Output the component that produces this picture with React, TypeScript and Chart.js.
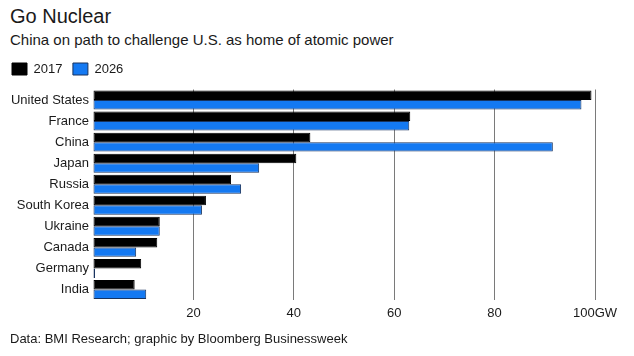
import React, { useEffect, useRef } from "react";
import { Chart, registerables } from "chart.js";

Chart.register(...registerables);

const categories = [
  "United States",
  "France",
  "China",
  "Japan",
  "Russia",
  "South Korea",
  "Ukraine",
  "Canada",
  "Germany",
  "India",
];
const values2017 = [99.3, 63.2, 43.3, 40.5, 27.5, 22.5, 13.3, 12.8, 9.6, 8.3];
const values2026 = [97.3, 63.0, 91.6, 33.1, 29.5, 21.7, 13.3, 8.6, 0.4, 10.6];
const seriesNames = ["2017", "2026"];
const tickValues = [0, 20, 40, 60, 80, 100];
const tickLabels = ["", "20", "40", "60", "80", "100GW"];

const titleText = "Go Nuclear";
const subtitleText = "China on path to challenge U.S. as home of atomic power";
const sourceText = "Data: BMI Research; graphic by Bloomberg Businessweek";

const FONT = "'Liberation Sans', Arial, Helvetica, sans-serif";

export default function App() {
  const canvasRef = useRef<HTMLCanvasElement | null>(null);

  useEffect(() => {
    if (!canvasRef.current) return;
    const chart = new Chart(canvasRef.current, {
      type: "bar",
      data: {
        labels: categories,
        datasets: [
          {
            label: seriesNames[0],
            data: values2017,
            backgroundColor: "#000000",
            borderColor: "#000000",
            borderWidth: 1,
            borderSkipped: false,
            categoryPercentage: 0.9,
            barPercentage: 1.0,
          },
          {
            label: seriesNames[1],
            data: values2026,
            backgroundColor: "#1479f2",
            borderColor: "#18335e",
            borderWidth: 1,
            borderSkipped: false,
            categoryPercentage: 0.9,
            barPercentage: 1.0,
          },
        ],
      },
      options: {
        indexAxis: "y",
        responsive: false,
        animation: false,
        devicePixelRatio: 1,
        layout: { padding: { top: 52, left: 1.5, right: 39, bottom: 36 } },
        plugins: {
          tooltip: { enabled: false },
          title: { display: false },
          legend: {
            display: true,
            position: "top",
            align: "start",
            labels: {
              boxWidth: 15,
              boxHeight: 12,
              padding: 10.5,
              color: "#1a1a1a",
              font: { family: FONT, size: 13 },
            },
          },
        },
        scales: {
          x: {
            type: "linear",
            position: "bottom",
            min: 0,
            max: 100,
            afterBuildTicks: (scale: any) => {
              scale.ticks = tickValues.map((v) => ({ value: v }));
            },
            afterFit: (scale: any) => {
              scale.height = 20;
            },
            ticks: {
              padding: 6,
              color: "#1a1a1a",
              font: { family: FONT, size: 13 },
              maxRotation: 0,
              callback: (value: any) => {
                const i = tickValues.indexOf(Number(value));
                return i >= 0 ? tickLabels[i] : "";
              },
            },
            grid: {
              drawTicks: false,
              lineWidth: 1,
              color: (ctx: any) =>
                ctx.tick && ctx.tick.value === 0 ? "rgba(0,0,0,0)" : "#7a7a7a",
            },
            border: { display: false },
          },
          xTop: {
            type: "linear",
            position: "top",
            min: 0,
            max: 100,
            display: true,
            afterFit: (scale: any) => {
              scale.height = 4;
            },
            ticks: { display: false },
            grid: { display: false, drawTicks: false },
            border: { display: false },
          },
          y: {
            type: "category",
            afterFit: (scale: any) => {
              scale.width = 91.5;
            },
            ticks: {
              padding: 4,
              color: "#1a1a1a",
              font: { family: FONT, size: 13 },
            },
            grid: { display: false, drawTicks: false },
            border: { display: false },
          },
        },
      },
    });
    return () => chart.destroy();
  }, []);

  const textBase: React.CSSProperties = {
    position: "absolute",
    left: 10,
    margin: 0,
    whiteSpace: "nowrap",
    fontFamily: FONT,
    color: "#1a1a1a",
  };

  return (
    <div
      style={{
        position: "absolute",
        left: 0,
        top: 0,
        width: 634,
        height: 356,
        background: "#ffffff",
        overflow: "hidden",
      }}
    >
      <div style={{ ...textBase, top: 6, fontSize: 20, lineHeight: "20px" }}>{titleText}</div>
      <div style={{ ...textBase, top: 31.6, fontSize: 15, lineHeight: "15px" }}>{subtitleText}</div>
      <canvas
        ref={canvasRef}
        width={634}
        height={356}
        style={{ position: "absolute", left: 0, top: 0, width: 634, height: 356 }}
      />
      <div style={{ ...textBase, top: 332, fontSize: 13, lineHeight: "13px" }}>{sourceText}</div>
    </div>
  );
}
